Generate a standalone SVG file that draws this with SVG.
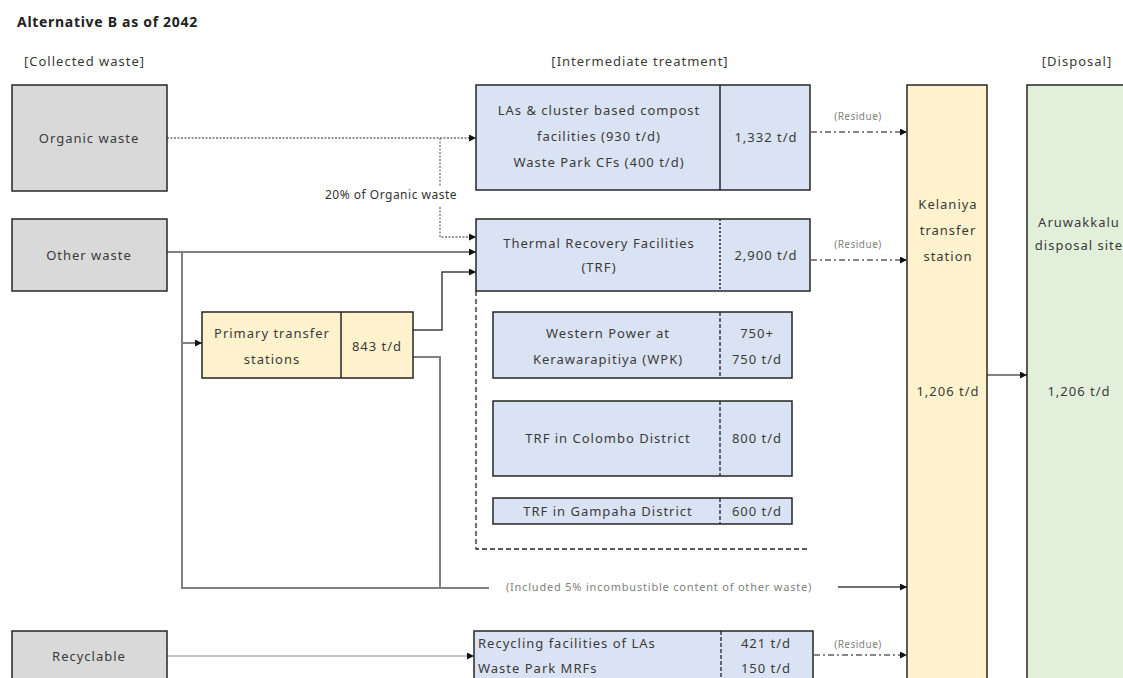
<svg xmlns="http://www.w3.org/2000/svg" width="1123" height="678" viewBox="0 0 1123 678">
<style>
.t{font-family:"Noto Sans","Liberation Sans",sans-serif;font-size:13px;fill:#3a3a3a;letter-spacing:1px}
.m{text-anchor:middle}
.s{font-size:10px;fill:#808080;letter-spacing:0.5px}
.b{stroke:#262626;stroke-width:1.5}
.gray{fill:#d9d9d9}
.blue{fill:#dae3f3}
.yel{fill:#fff2cc}
.grn{fill:#e2efda}
.c{fill:none}
.dot{stroke:#707070;stroke-width:1.3;stroke-dasharray:2 1.5}
.sol{stroke:#808080;stroke-width:2}
.thin{stroke:#8a8a8a;stroke-width:1.2}
.dk{stroke:#404040;stroke-width:1.5}
.dd{stroke:#606060;stroke-width:1.5;stroke-dasharray:6 3 2 3}
</style>
<defs>
<marker id="ah" markerUnits="userSpaceOnUse" markerWidth="8" markerHeight="8" refX="7" refY="3.5" orient="auto">
<path d="M0,0 L7,3.5 L0,7 z" fill="#111"/>
</marker>
</defs>
<rect width="1123" height="678" fill="#fff"/>
<text class="t" x="17" y="27" style="font-weight:bold;font-size:14px;fill:#222;letter-spacing:0.7px">Alternative B as of 2042</text>
<text class="t" x="24" y="66">[Collected waste]</text>
<text class="t m" x="640" y="66">[Intermediate treatment]</text>
<text class="t m" x="1077" y="66">[Disposal]</text>

<g id="connectors" class="c">
<path class="dot" d="M167,138 H476" marker-end="url(#ah)"/>
<path class="dot" d="M440,138 V186"/>
<path class="dot" d="M440,207 V237 H476" marker-end="url(#ah)"/>
<path class="sol" d="M167,252 H476" marker-end="url(#ah)"/>
<path class="sol" d="M182,252 V588 H489"/>
<path class="sol" d="M182,343 H202" marker-end="url(#ah)"/>
<path class="dk" d="M413,330 H442 V272 H476" marker-end="url(#ah)"/>
<path class="sol" d="M413,357 H440 V588"/>
<path class="dk" d="M838,587 H907" marker-end="url(#ah)"/>
<path class="thin" d="M167,656 H474" marker-end="url(#ah)"/>
<path class="dd" d="M811,132 H907" marker-end="url(#ah)"/>
<path class="dd" d="M811,260 H907" marker-end="url(#ah)"/>
<path class="dd" d="M814,655 H907" marker-end="url(#ah)"/>
<path class="sol" d="M987,375 H1027" marker-end="url(#ah)"/>
<text class="t s m" x="391" y="199" style="font-size:12px;fill:#333;letter-spacing:0.5px">20% of Organic waste</text>
<text class="t s m" x="858" y="120">(Residue)</text>
<text class="t s m" x="858" y="248">(Residue)</text>
<text class="t s m" x="858" y="648">(Residue)</text>
<text class="t s m" x="659" y="591" style="font-size:11px;letter-spacing:0.8px">(Included 5% incombustible content of other waste)</text>
</g>

<g id="organic">
<rect class="gray b" x="12" y="85" width="155" height="106"/>
<text class="t m" x="89" y="143">Organic waste</text>
</g>
<g id="other">
<rect class="gray b" x="12" y="219" width="155" height="72"/>
<text class="t m" x="89" y="260">Other waste</text>
</g>
<g id="recyclable">
<rect class="gray b" x="12" y="631" width="155" height="60"/>
<text class="t m" x="89" y="661">Recyclable</text>
</g>
<g id="pts">
<rect class="yel b" x="202" y="312" width="211" height="66"/>
<line class="b" x1="341" y1="312" x2="341" y2="378"/>
<text class="t m" x="272" y="338">Primary transfer</text>
<text class="t m" x="272" y="364">stations</text>
<text class="t m" x="377" y="351">843 t/d</text>
</g>
<g id="compost">
<rect class="blue b" x="476" y="85" width="334" height="105"/>
<line class="b" x1="720" y1="85" x2="720" y2="190"/>
<text class="t m" x="599" y="115">LAs &amp; cluster based compost</text>
<text class="t m" x="599" y="141">facilities (930 t/d)</text>
<text class="t m" x="599" y="167">Waste Park CFs (400 t/d)</text>
<text class="t m" x="766" y="142">1,332 t/d</text>
</g>
<g id="trf-group">
<path d="M476,291 V549 H810" fill="none" stroke="#222" stroke-width="1.3" stroke-dasharray="5 3"/>
</g>
<g id="trf">
<rect class="blue b" x="476" y="219" width="334" height="72"/>
<line x1="720" y1="219" x2="720" y2="291" stroke="#222" stroke-width="1.5" stroke-dasharray="2 2"/>
<text class="t m" x="599" y="248">Thermal Recovery Facilities</text>
<text class="t m" x="599" y="272">(TRF)</text>
<text class="t m" x="766" y="260">2,900 t/d</text>
</g>
<g id="wpk">
<rect class="blue b" x="493" y="312" width="299" height="66"/>
<line x1="720" y1="312" x2="720" y2="378" stroke="#222" stroke-width="1.3" stroke-dasharray="4 2"/>
<text class="t m" x="608" y="338">Western Power at</text>
<text class="t m" x="608" y="364">Kerawarapitiya (WPK)</text>
<text class="t m" x="757" y="338">750+</text>
<text class="t m" x="757" y="364">750 t/d</text>
</g>
<g id="colombo">
<rect class="blue b" x="493" y="401" width="299" height="75"/>
<line x1="720" y1="401" x2="720" y2="476" stroke="#222" stroke-width="1.3" stroke-dasharray="4 2"/>
<text class="t m" x="608" y="443">TRF in Colombo District</text>
<text class="t m" x="757" y="443">800 t/d</text>
</g>
<g id="gampaha">
<rect class="blue b" x="493" y="498" width="299" height="26"/>
<line x1="720" y1="498" x2="720" y2="524" stroke="#222" stroke-width="1.3" stroke-dasharray="4 2"/>
<text class="t m" x="608" y="516">TRF in Gampaha District</text>
<text class="t m" x="757" y="516">600 t/d</text>
</g>
<g id="recycling">
<rect class="blue b" x="474" y="631" width="339" height="60"/>
<line x1="721" y1="631" x2="721" y2="691" stroke="#222" stroke-width="1.3" stroke-dasharray="4 2"/>
<text class="t" x="478" y="648">Recycling facilities of LAs</text>
<text class="t" x="478" y="673">Waste Park MRFs</text>
<text class="t m" x="766" y="648">421 t/d</text>
<text class="t m" x="766" y="673">150 t/d</text>
</g>
<g id="kelaniya">
<rect class="yel b" x="907" y="85" width="80" height="610"/>
<text class="t m" x="948" y="209">Kelaniya</text>
<text class="t m" x="948" y="235">transfer</text>
<text class="t m" x="948" y="261">station</text>
<text class="t m" x="948" y="396">1,206 t/d</text>
</g>
<g id="aruwakkalu">
<rect class="grn b" x="1027" y="85" width="110" height="610"/>
<text class="t m" x="1079" y="227">Aruwakkalu</text>
<text class="t m" x="1079" y="250">disposal site</text>
<text class="t m" x="1079" y="396">1,206 t/d</text>
</g>
</svg>
